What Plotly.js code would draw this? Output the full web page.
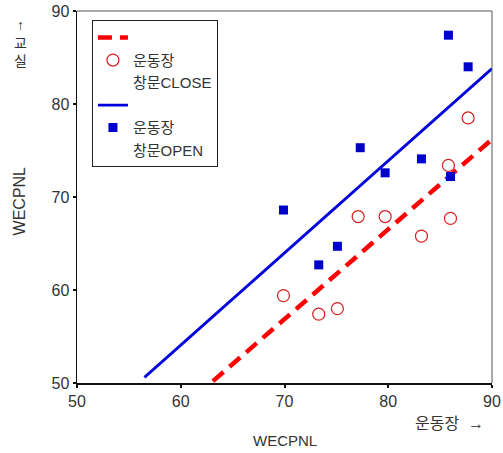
<!DOCTYPE html>
<html>
<head>
<meta charset="utf-8">
<script src="https://cdn.plot.ly/plotly-3.0.1.min.js"></script>
<style>html,body{margin:0;padding:0;background:#fff;}#chart{width:503px;height:453px;}</style>
</head>
<body>
<div id="chart"></div>
<script>
// Window CLOSE (red circles)
var closeX = [69.9, 73.3, 75.1, 77.1, 79.7, 83.2, 85.8, 86.0, 87.7];
var closeY = [59.4, 57.4, 58.0, 67.9, 67.9, 65.8, 73.4, 67.7, 78.5];
// Window OPEN (blue squares)
var openX = [69.9, 73.3, 75.1, 77.3, 79.7, 83.2, 86.0, 85.8, 87.7];
var openY = [68.6, 62.7, 64.7, 75.3, 72.6, 74.1, 72.2, 87.4, 84.0];
// Fit lines (endpoints)
var closeFitX = [63.1, 90];
var closeFitY = [50.2, 76.2];
var openFitX = [56.5, 90];
var openFitY = [50.6, 83.8];

var tickVals = [50, 60, 70, 80, 90];
var tickText = ['50', '60', '70', '80', '90'];
var legendClose = ['운동장', '창문CLOSE'];
var legendOpen = ['운동장', '창문OPEN'];

var FONT = 'Liberation Sans, Arial, Noto Sans CJK KR, sans-serif';
function hidden(name) {
  return {x: [null], y: [null], mode: 'markers', name: name, hoverinfo: 'skip',
          marker: {size: 1, color: 'rgba(0,0,0,0)', line: {width: 0}}};
}

var traces = [
  {x: closeFitX, y: closeFitY, mode: 'lines', name: ' ', line: {color: '#ff0000', width: 4.5, dash: '14px,8px'}},
  {x: closeX, y: closeY, mode: 'markers', name: legendClose[0],
   marker: {symbol: 'circle-open', size: 12, color: '#d42020', line: {width: 1.2}}},
  hidden(legendClose[1]),
  {x: openFitX, y: openFitY, mode: 'lines', name: ' ', line: {color: '#0000dd', width: 2.8}},
  {x: openX, y: openY, mode: 'markers', name: legendOpen[0],
   marker: {symbol: 'square', size: 9, color: '#0000cc'}},
  hidden(legendOpen[1])
];

var axisCommon = {
  range: [50, 90], tickvals: tickVals, ticktext: tickText,
  showgrid: false, zeroline: false, showline: true, linecolor: '#111', linewidth: 1.5,
  ticks: 'outside', ticklen: 3, tickwidth: 2, tickcolor: '#111',
  tickfont: {family: FONT, size: 16, color: '#333'}, mirror: false
};

var layout = {
  width: 503, height: 453,
  margin: {l: 77, r: 11, t: 11, b: 70},
  paper_bgcolor: '#fff', plot_bgcolor: '#fff',
  showlegend: true,
  legend: {
    x: 0.036, y: 0.975, xanchor: 'left', yanchor: 'top',
    bgcolor: '#fff', bordercolor: '#222', borderwidth: 1,
    font: {family: FONT, size: 15, color: '#333'},
    traceorder: 'normal', itemwidth: 30
  },
  xaxis: Object.assign({}, axisCommon),
  yaxis: Object.assign({}, axisCommon),
  shapes: [
    {type: 'line', xref: 'paper', yref: 'paper', x0: 0, x1: 1, y0: 1, y1: 1, line: {color: '#555', width: 1}},
    {type: 'line', xref: 'paper', yref: 'paper', x0: 1, x1: 1, y0: 0, y1: 1, line: {color: '#555', width: 1}}
  ],
  annotations: [
    {text: 'WECPNL', xref: 'paper', yref: 'paper', x: 0.5, y: -0.155, xanchor: 'center', yanchor: 'middle', showarrow: false,
     font: {family: FONT, size: 15, color: '#333'}},
    {text: '운동장  →', xref: 'paper', yref: 'paper', x: 0.985, y: -0.11, xanchor: 'right', yanchor: 'middle', showarrow: false,
     font: {family: FONT, size: 16, color: '#333'}},
    {text: 'WECPNL', xref: 'paper', yref: 'paper', x: -0.138, y: 0.49, xanchor: 'center', yanchor: 'middle', showarrow: false, textangle: -90,
     font: {family: FONT, size: 16, color: '#333'}},
    {text: '↑<br>교<br>실', xref: 'paper', yref: 'paper', x: -0.136, y: 0.915, xanchor: 'center', yanchor: 'middle', showarrow: false,
     font: {family: FONT, size: 14, color: '#333'}}
  ]
};

Plotly.newPlot('chart', traces, layout, {displayModeBar: false, staticPlot: true});
</script>
</body>
</html>
